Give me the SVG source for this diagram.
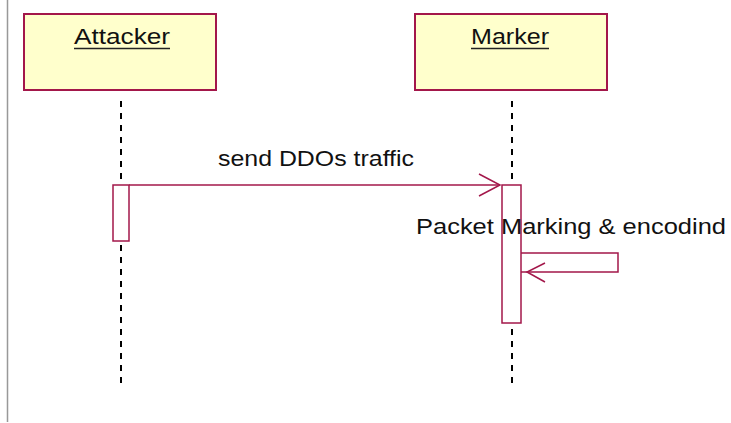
<svg xmlns="http://www.w3.org/2000/svg" width="731" height="423" viewBox="0 0 731 423">
<defs>
<style>
.obj{fill:#ffffcc;stroke:#a3174a;stroke-width:2}
.act{fill:#ffffff;stroke:#a3174a;stroke-width:1.5}
.msg{fill:none;stroke:#a3174a;stroke-width:1.5}
.life{stroke:#000;stroke-width:2;stroke-dasharray:6 6}
.lbl{font-family:"Liberation Sans",Arial,sans-serif;font-size:22px;fill:#111}
.ul{stroke:#222;stroke-width:1.5}
</style>
</defs>
<rect width="731" height="423" fill="#fff"/>
<line x1="7.5" y1="0" x2="7.5" y2="422" stroke="#999" stroke-width="1.5"/>
<g id="lifelines">
<line class="life" x1="121" y1="101" x2="121" y2="384"/>
<line class="life" x1="512" y1="101" x2="512" y2="384"/>
</g>
<g id="attacker">
<rect class="obj" x="24" y="14" width="192" height="76"/>
<text class="lbl" x="74" y="44" textLength="96" lengthAdjust="spacingAndGlyphs">Attacker</text>
<line class="ul" x1="74" y1="48.5" x2="170" y2="48.5"/>
</g>
<g id="marker">
<rect class="obj" x="415" y="14" width="192" height="76"/>
<text class="lbl" x="471" y="44" textLength="78" lengthAdjust="spacingAndGlyphs">Marker</text>
<line class="ul" x1="471" y1="48.5" x2="549" y2="48.5"/>
</g>
<g id="attacker-activation">
<rect class="act" x="113" y="185" width="16" height="56"/>
</g>
<g id="marker-activation">
<rect class="act" x="502" y="185" width="19" height="138"/>
</g>
<g id="connectors">
<line class="msg" x1="129" y1="185" x2="500" y2="185"/>
<polyline class="msg" points="479,174 500,185 479,196"/>
<polyline class="msg" points="521,253 618,253 618,272 521,272"/>
<polyline class="msg" points="545,263 527,272 545,282"/>
</g>
<g id="labels">
<text class="lbl" x="218" y="166" textLength="196" lengthAdjust="spacingAndGlyphs">send DDOs traffic</text>
<text class="lbl" x="416" y="234" textLength="310" lengthAdjust="spacingAndGlyphs">Packet Marking &amp; encodind</text>
</g>
</svg>
